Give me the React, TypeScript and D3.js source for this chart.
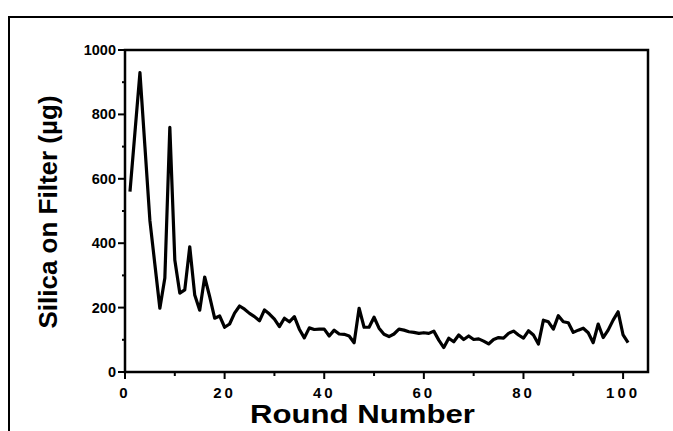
import React from "react";
import * as d3 from "d3";

const rounds: number[] = Array.from({ length: 101 }, (_, i) => i + 1);
const silica: number[] = [
  560, 745, 930, 700, 470, 334, 198, 292, 760, 348,
  245, 255, 389, 239, 192, 295, 234, 167, 174, 139,
  149, 183, 205, 195, 182, 172, 159, 193, 180, 164,
  141, 167, 156, 172, 133, 106, 137, 132, 133, 133,
  112, 130, 118, 117, 112, 91, 198, 139, 139, 170,
  136, 117, 110, 118, 133, 130, 125, 123, 120, 122,
  120, 127, 99, 76, 105, 94, 115, 101, 112, 101,
  103, 96, 87, 101, 107, 105, 120, 127, 115, 105,
  128, 115, 87, 161, 156, 133, 175, 156, 153, 123,
  130, 136, 122, 91, 149, 107, 130, 161, 187, 115,
  91,
];
const xTicks: number[] = [0, 20, 40, 60, 80, 100];
const xMinor: number[] = [10, 30, 50, 70, 90];
const yTicks: number[] = [0, 200, 400, 600, 800, 1000];
const yMinor: number[] = [100, 300, 500, 700, 900];
const xTitle = "Round Number";
const yTitle = "Silica on Filter (\u00b5g)";

const W = 673;
const H = 431;
const font = "'Liberation Sans', Arial, Helvetica, sans-serif";

export default function App() {
  const x = d3.scaleLinear().domain([0, 105]).range([125, 648]);
  const y = d3.scaleLinear().domain([0, 1000]).range([372, 50]);
  const line = d3
    .line<number>()
    .x((_, i) => x(rounds[i]))
    .y((d) => y(d));
  const x0 = x(0);
  const x1 = x(105);
  const y0 = y(0);
  const y1 = y(1000);
  return (
    <svg
      width={W}
      height={H}
      style={{ position: "absolute", left: 0, top: 0, background: "#fff" }}
      fontFamily={font}
    >
      <rect x={0} y={0} width={W} height={H} fill="#fff" />
      {/* outer frame */}
      <line x1={8} y1={17} x2={W} y2={17} stroke="#000" strokeWidth={2} />
      <line x1={9} y1={17} x2={9} y2={H} stroke="#000" strokeWidth={2} />
      {/* plot frame */}
      <rect x={x0} y={y1} width={x1 - x0} height={y0 - y1} fill="none" stroke="#000" strokeWidth={2.5} />
      {/* y ticks */}
      {yTicks.map((t) => (
        <g key={"yt" + t}>
          <line x1={x0 - 7} x2={x0} y1={y(t)} y2={y(t)} stroke="#000" strokeWidth={2} />
          <text x={x0 - 9} y={y(t)} dy="0.35em" textAnchor="end" fontSize={14.5} fontWeight="bold">
            {t}
          </text>
        </g>
      ))}
      {yMinor.map((t) => (
        <line key={"ym" + t} x1={x0 - 3} x2={x0} y1={y(t)} y2={y(t)} stroke="#000" strokeWidth={2} />
      ))}
      {/* x ticks */}
      {xTicks.map((t) => (
        <g key={"xt" + t}>
          <line x1={x(t)} x2={x(t)} y1={y0} y2={y0 + 7} stroke="#000" strokeWidth={2} />
          <text x={x(t)} y={y0 + 26} textAnchor="middle" fontSize={15} fontWeight="bold" letterSpacing={3}>
            {t}
          </text>
        </g>
      ))}
      {xMinor.map((t) => (
        <line key={"xm" + t} x1={x(t)} x2={x(t)} y1={y0} y2={y0 + 4} stroke="#000" strokeWidth={2} />
      ))}
      {/* data line */}
      <path d={line(silica) || ""} fill="none" stroke="#000" strokeWidth={3.2} strokeLinejoin="round" />
      {/* titles */}
      <text
        x={250}
        y={423}
        fontSize={25}
        fontWeight="bold"
        textLength={225}
        lengthAdjust="spacingAndGlyphs"
      >
        {xTitle}
      </text>
      <text
        transform={`translate(57, 212) rotate(-90)`}
        textAnchor="middle"
        fontSize={26}
        fontWeight="bold"
      >
        {yTitle}
      </text>
    </svg>
  );
}
